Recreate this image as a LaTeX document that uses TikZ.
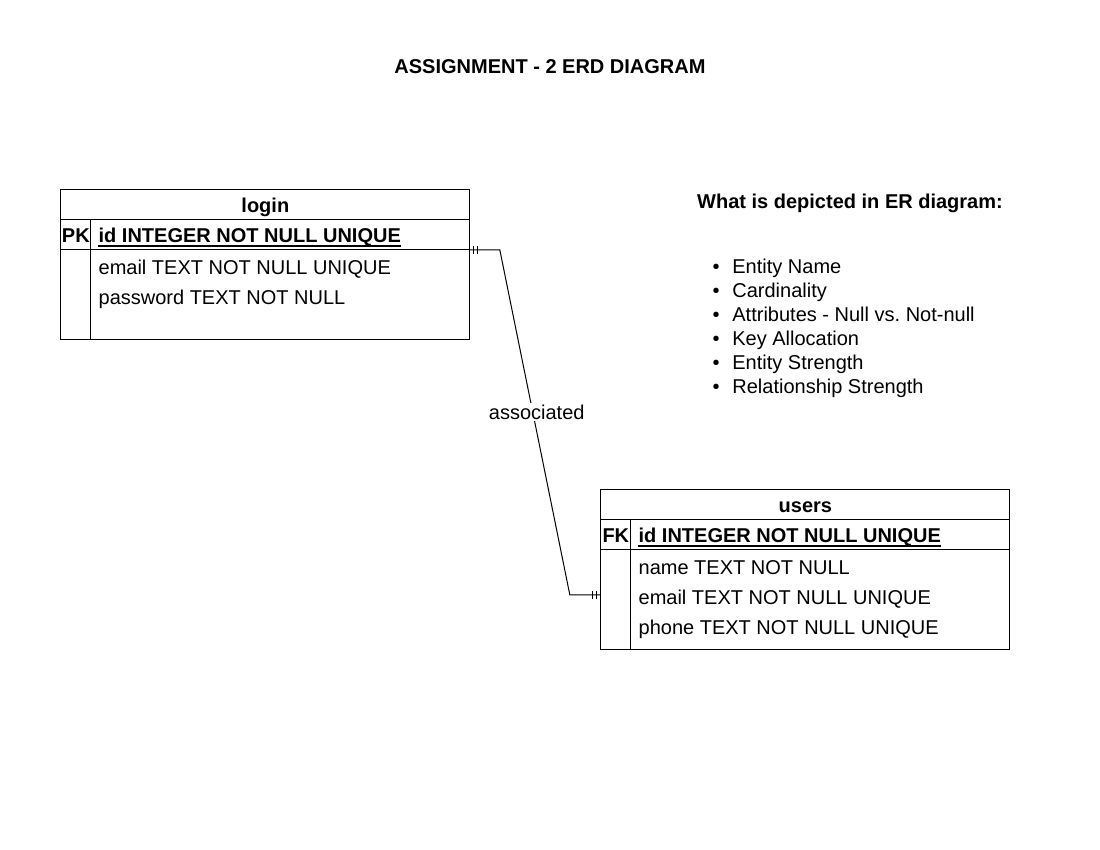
\documentclass[tikz,border=0pt]{standalone}
\usepackage{fontspec}
\setmainfont{Liberation Sans}
\frenchspacing
\usetikzlibrary{positioning}
\tikzstyle{every node}=[text height=7.2pt, text depth=0pt]
\tikzstyle{headcell}=[draw, line width=0.5pt, outer sep=0pt, minimum width=204.5pt, minimum height=15pt, inner sep=0pt, font=\bfseries]
\tikzstyle{keycell}=[draw, line width=0.5pt, outer sep=0pt, minimum width=15pt, minimum height=15pt, inner sep=0pt, font=\bfseries]
\tikzstyle{attrcell}=[draw, line width=0.5pt, outer sep=0pt, minimum width=189.5pt, inner sep=0pt]
\tikzstyle{attr}=[anchor=west, inner xsep=3.7pt, inner ysep=0pt]
\tikzstyle{erline}=[line width=0.5pt]
\tikzstyle{uline}=[line width=0.9pt]

\begin{document}
\begin{tikzpicture}[x=0.5pt, y=-0.5pt]
			\useasboundingbox (0,0) rectangle (1100,850);
			\node[font=\bfseries] (0) at (550,66) {ASSIGNMENT - 2 ERD DIAGRAM};
			% login table
			\node[headcell] (1) at (265.35,205) {login};
			\node[keycell, anchor=north west] (2) at (1.south west) {PK};
			\node[attrcell, minimum height=15pt, anchor=north west] (3) at (2.north east) {};
			\node[attr, font=\bfseries] (3t) at (3.west) {id INTEGER NOT NULL UNIQUE};
			\draw[uline] ([xshift=3.7pt, yshift=-1.6pt]3t.south west) -- ([xshift=-3.7pt, yshift=-1.6pt]3t.south east);
			\node[keycell, minimum height=45pt, anchor=north west] (4) at (2.south west) {};
			\node[attrcell, minimum height=45pt, anchor=north west] (5) at (4.north east) {};
			\node[attr] (6) at ([yshift=-8.5pt]5.north west) {email TEXT NOT NULL UNIQUE};
			\node[attr] (7) at ([yshift=-23.5pt]5.north west) {password TEXT NOT NULL};
			% users table
			\node[headcell] (8) at (805.35,505) {users};
			\node[keycell, anchor=north west] (9) at (8.south west) {FK};
			\node[attrcell, minimum height=15pt, anchor=north west] (10) at (9.north east) {};
			\node[attr, font=\bfseries] (10t) at (10.west) {id INTEGER NOT NULL UNIQUE};
			\draw[uline] ([xshift=3.7pt, yshift=-1.6pt]10t.south west) -- ([xshift=-3.7pt, yshift=-1.6pt]10t.south east);
			\node[keycell, minimum height=50pt, anchor=north west] (11) at (9.south west) {};
			\node[attrcell, minimum height=50pt, anchor=north west] (12) at (11.north east) {};
			\node[attr] (13) at ([yshift=-8.5pt]12.north west) {name TEXT NOT NULL};
			\node[attr] (14) at ([yshift=-23.5pt]12.north west) {email TEXT NOT NULL UNIQUE};
			\node[attr] (15) at ([yshift=-38.5pt]12.north west) {phone TEXT NOT NULL UNIQUE};
			% relationship
			\coordinate (16) at ([yshift=-22.5pt]11.north west);
			\draw[erline] (3.south east) -- ++(15pt,0) -- node[pos=0.47, xshift=2pt, fill=white, inner sep=1pt] (17) {associated} ([xshift=-15.5pt]16) -- (16);
			\foreach \d in {2,4} {
				\draw[erline] ([xshift=\d pt, yshift=2pt]3.south east) -- ++(0,-4pt);
				\draw[erline] ([xshift=-\d pt, yshift=2pt]16) -- ++(0,-4pt);
			}
			% notes
			\node[font=\bfseries] (18) at (850,201) {What is depicted in ER diagram:};
			\foreach \t [count=\i] in {Entity Name, Cardinality, Attributes - Null vs. Not-null, Key Allocation, Entity Strength, Relationship Strength} {
				\node[anchor=west, inner sep=0pt] (item\i) at (732,242+24*\i) {\t};
				\node[inner sep=0pt] (dot\i) at (716,242+24*\i) {•};
			}
		\end{tikzpicture}
\end{document}
